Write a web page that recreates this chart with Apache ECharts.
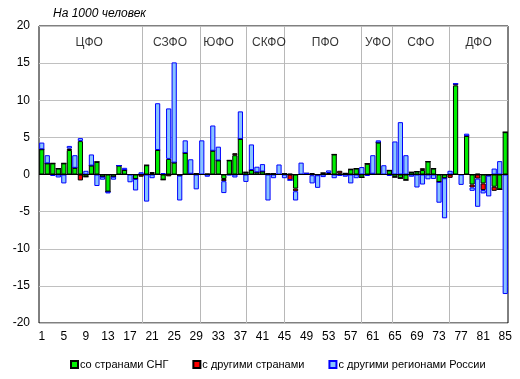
<!DOCTYPE html>
<html><head><meta charset="utf-8">
<script src="https://cdn.jsdelivr.net/npm/echarts@6/dist/echarts.min.js"></script>
<style>html,body{margin:0;padding:0;background:#fff}#c{width:520px;height:379px}</style>
</head><body><div id="c"></div>
<script>
const categories = Array.from({length: 85}, (_, i) => String(i + 1));
const seriesNames = ['со странами СНГ', 'с другими странами', 'с другими регионами России'];
const cis = [3.4,1.5,1.5,0.8,1.5,3.3,0.9,4.5,-0.3,1.2,1.7,-0.3,-2.3,-0.3,1.2,0.6,0,-0.6,0,1.25,
  0.2,3.3,-0.7,2.1,1.6,-0.15,2.9,0.1,0.1,0,0.05,3.2,1.9,-0.6,1.9,2.6,4.8,0.3,0.6,0.3,
  0.4,0.1,0.1,0,0.1,0.1,-1.9,0,0.15,-0.1,-0.1,0.2,0,2.7,0.15,0.15,0.7,0.8,-0.4,1.45,
  0.1,4.3,0,0.55,-0.35,-0.5,-0.75,0.3,0.4,0.6,1.75,0.8,-1.0,-0.5,0,12.0,0,5.2,-1.35,0.1,
  -1.2,-0.15,-1.65,-2.0,5.7];
const other = [0,0,0,0,0,0.2,0,-0.8,0,0,0,0,0,0,0,0,0,0,-0.3,0,
  0.1,0,0,-0.25,0,0,0,0,0,0,0,0,0,-0.3,0,0.27,0,0,0,0,
  0,0,0,0,0,-0.75,-0.35,0,0,0.2,0,0,0.2,0,0.35,0,0,0,0,0,
  0,0,0,0,0,0,0,0,0,0.25,0,0,0,0,-0.45,0.22,0,0,-0.4,-0.55,
  -0.9,0,-0.55,0,0];
const regions = [0.9,1.1,-0.2,-0.4,-1.2,0.35,1.7,0.4,0.5,1.5,-1.55,-0.4,-0.25,-0.4,0,0.3,-1.05,-1.55,0.3,-3.65,
  -0.5,6.3,0.2,6.8,13.5,-3.35,1.7,1.95,-2.0,4.6,-0.3,3.4,1.85,-1.6,-0.1,-0.4,3.7,-1.0,3.45,0.75,
  1.0,-3.5,-0.5,1.35,-0.5,0,-1.25,1.6,0,-1.1,-1.7,-0.35,0.35,-0.5,-0.2,-0.3,-1.2,-0.5,1.0,-0.2,
  2.5,0.3,1.25,-0.2,4.45,7.05,2.6,-0.3,-1.75,-1.35,-0.65,-0.6,-2.8,-5.4,0.5,0,-1.4,0.3,-0.45,-3.8,
  -0.45,-2.8,0.8,1.8,-16.1];
const yTicks = [-20, 20, 5];
const districtNames = ['ЦФО','СЗФО','ЮФО','СКФО','ПФО','УФО','СФО','ДФО'];
const districtLabelX = [9.1, 23.74, 32.56, 41.68, 51.9, 61.43, 69.18, 79.68];
const districtLabelY = 17.75;
const districtBounds = [18.72, 29.3, 37.64, 44.45, 58.35, 64.03, 74.36];

const FONT = 'Liberation Sans, Arial, sans-serif';
const chart = echarts.init(document.getElementById('c'), null, {renderer: 'canvas'});
const barCommon = {type: 'bar', stack: 'all', barWidth: 5.2, xAxisIndex: 0, yAxisIndex: 0, z: 2};
const option = {
  animation: false,
  textStyle: {fontFamily: FONT},
  title: {text: 'На 1000 человек', left: 53, top: 8, padding: 0,
    textStyle: {fontSize: 12, fontStyle: 'italic', fontWeight: 'normal', color: '#000', fontFamily: FONT}},
  legend: {left: 70, top: 359, padding: 0, itemWidth: 7, itemHeight: 7, itemGap: 24, icon: 'rect',
    data: seriesNames, textStyle: {fontSize: 11, color: '#000', fontFamily: FONT, padding: [0, 0, 0, -3]}},
  grid: {left: 39, right: 12, top: 26, bottom: 56, show: true, borderColor: '#000', borderWidth: 1, backgroundColor: 'transparent'},
  xAxis: [
    {type: 'category', data: categories, boundaryGap: true, axisLine: {show: false}, axisTick: {show: false},
      axisLabel: {interval: 3, color: '#000', fontSize: 12, margin: 8, fontFamily: FONT}, splitLine: {show: false}},
    {type: 'value', min: 0, max: 85, show: false}
  ],
  yAxis: {type: 'value', min: yTicks[0], max: yTicks[1], interval: yTicks[2], axisLine: {show: false}, axisTick: {show: false},
    axisLabel: {color: '#000', fontSize: 12, margin: 9, fontFamily: FONT}, splitLine: {lineStyle: {color: '#c0c0c0', width: 1}}},
  series: [
    Object.assign({}, barCommon, {name: seriesNames[0], data: cis, itemStyle: {color: '#00f000', borderColor: '#000', borderWidth: 1}}),
    Object.assign({}, barCommon, {name: seriesNames[1], data: other, itemStyle: {color: '#ff0000', borderColor: '#000', borderWidth: 1}}),
    Object.assign({}, barCommon, {name: seriesNames[2], data: regions, itemStyle: {color: '#88c4ff', borderColor: '#0000ff', borderWidth: 1}}),
    {type: 'scatter', xAxisIndex: 1, yAxisIndex: 0, symbolSize: 1, itemStyle: {color: 'rgba(0,0,0,0)'}, z: 1, silent: true,
      data: districtNames.map((n, i) => ({name: n, value: [districtLabelX[i], districtLabelY]})),
      label: {show: true, position: 'inside', formatter: p => p.name, color: '#000', fontSize: 12, fontFamily: FONT},
      markLine: {symbol: 'none', silent: true, z: 1, label: {show: false},
        data: districtBounds.map(b => ({xAxis: b, lineStyle: {color: '#b8b8b8', width: 1, type: 'solid'}}))}
    },
    {type: 'scatter', xAxisIndex: 1, yAxisIndex: 0, symbolSize: 0, data: [], z: 5, silent: true,
      markLine: {symbol: 'none', silent: true, z: 5, label: {show: false},
        data: [{yAxis: 0, lineStyle: {color: '#000', width: 1, type: 'solid'}}]}
    }
  ]
};
chart.setOption(option);
</script></body></html>
